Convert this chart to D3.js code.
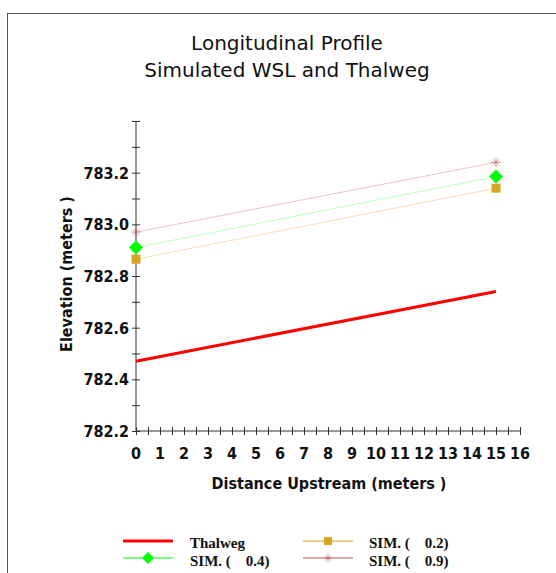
<!DOCTYPE html>
<html>
<head>
<meta charset="utf-8">
<script src="https://cdn.jsdelivr.net/npm/d3@7"></script>
<style>
  html, body { margin: 0; padding: 0; background: #fff; }
  svg { display: block; }
  text { white-space: pre; }
</style>
</head>
<body>
<svg id="chart" width="556" height="573"></svg>
<script>
// Station distances (m) and elevations (m) of each profile
const distance = [0, 15];
const thalweg  = [782.47, 782.74];
const sim02    = [782.865, 783.14];
const sim04    = [782.91, 783.185];
const sim09    = [782.97, 783.24];

const xTickLabels = d3.range(0, 17, 1);
const xMinorTicks = d3.range(0, 16.01, 0.5);
const yTickLabels = [782.2, 782.4, 782.6, 782.8, 783.0, 783.2];
const yMinorTicks = d3.range(0, 13).map(i => 782.2 + i * 0.1);

const series = [
  { name: "Thalweg",        values: thalweg, line: "#ff0000", legendLine: "#ff0000", width: 3, legendWidth: 3, marker: null },
  { name: "SIM. (    0.2)", values: sim02,   line: "#f6dfb8", legendLine: "#f0d08c", width: 1, legendWidth: 2, marker: "square",  fill: "#d9a326" },
  { name: "SIM. (    0.4)", values: sim04,   line: "#bdffbd", legendLine: "#7dff7d", width: 1, legendWidth: 2, marker: "diamond", fill: "#00ff00" },
  { name: "SIM. (    0.9)", values: sim09,   line: "#e8c4c4", legendLine: "#cf8f8f", width: 1, legendWidth: 1.5, marker: "star", fill: "#b55555" }
];

const axisFont = "'DejaVu Sans Condensed', 'DejaVu Sans', sans-serif";

const svg = d3.select("#chart");

// outer frame
svg.append("rect")
  .attr("x", 7.5).attr("y", 13.5)
  .attr("width", 600).attr("height", 600)
  .attr("fill", "none").attr("stroke", "#555").attr("stroke-width", 1);

const x = d3.scaleLinear().domain([0, 16]).range([136, 520]);
const y = d3.scaleLinear().domain([782.2, 783.4]).range([431, 121]);

// title
const title = svg.append("text")
  .attr("text-anchor", "middle")
  .attr("font-family", "DejaVu Sans")
  .attr("font-size", 20)
  .attr("fill", "#111");
title.append("tspan").attr("x", 287).attr("y", 50).text("Longitudinal Profile");
title.append("tspan").attr("x", 287).attr("y", 77).text("Simulated WSL and Thalweg");

// axes with ticks crossing the axis line
const gx = svg.append("g").attr("transform", `translate(0,${y(782.2)})`)
  .call(d3.axisBottom(x).tickValues(xMinorTicks).tickSize(4).tickFormat(""));
gx.selectAll(".tick line").attr("y1", -4).attr("y2", 4);
gx.select(".domain").attr("d", `M${x(0)},0H${x(16)}`);

const gy = svg.append("g").attr("transform", `translate(${x(0)},0)`)
  .call(d3.axisLeft(y).tickValues(yMinorTicks).tickSize(4).tickFormat(""));
gy.selectAll(".tick line").attr("x1", -4).attr("x2", 4);
gy.select(".domain").attr("d", `M0,${y(783.4)}V${y(782.2)}`);

svg.selectAll(".domain, .tick line").attr("stroke", "#333").attr("stroke-width", 1);

// tick labels
svg.append("g").selectAll("text").data(xTickLabels).join("text")
  .attr("x", d => x(d)).attr("y", 459)
  .attr("text-anchor", "middle")
  .attr("font-family", axisFont).attr("font-weight", "bold").attr("font-size", 16)
  .attr("fill", "#111")
  .text(d => d);

svg.append("g").selectAll("text").data(yTickLabels).join("text")
  .attr("x", 129).attr("y", d => y(d) + 6)
  .attr("text-anchor", "end")
  .attr("font-family", axisFont).attr("font-weight", "bold").attr("font-size", 16)
  .attr("fill", "#111")
  .text(d => d3.format(".1f")(d));

// axis titles
svg.append("text")
  .attr("x", 329).attr("y", 489)
  .attr("text-anchor", "middle")
  .attr("font-family", axisFont).attr("font-weight", "bold").attr("font-size", 16)
  .attr("fill", "#111")
  .text("Distance Upstream (meters )");

svg.append("text")
  .attr("transform", "translate(72,274) rotate(-90)")
  .attr("text-anchor", "middle")
  .attr("font-family", axisFont).attr("font-weight", "bold").attr("font-size", 16)
  .attr("fill", "#111")
  .text("Elevation (meters )");

// marker drawing
function drawMarker(g, type, cx, cy, fill, scale) {
  const s = scale || 1;
  if (type === "square") {
    g.append("rect").attr("x", cx - 4.5 * s).attr("y", cy - 4.5 * s)
      .attr("width", 9 * s).attr("height", 9 * s).attr("fill", fill);
  } else if (type === "diamond") {
    const r = 7 * s;
    g.append("path").attr("d", `M${cx},${cy - r}L${cx + r},${cy}L${cx},${cy + r}L${cx - r},${cy}Z`)
      .attr("fill", fill);
  } else if (type === "star") {
    const r = 5 * s, d = 3.2 * s;
    g.append("path")
      .attr("d", `M${cx - r},${cy}H${cx + r}M${cx},${cy - r}V${cy + r}M${cx - d},${cy - d}L${cx + d},${cy + d}M${cx - d},${cy + d}L${cx + d},${cy - d}`)
      .attr("stroke", fill).attr("stroke-width", 1).attr("stroke-opacity", 0.6).attr("fill", "none");
  }
}

// profile lines
const line = d3.line().x(d => x(d[0])).y(d => y(d[1]));
const plot = svg.append("g");
series.slice().reverse().forEach(s => {
  const pts = distance.map((d, i) => [d, s.values[i]]);
  plot.append("path").datum(pts)
    .attr("d", line)
    .attr("fill", "none")
    .attr("stroke", s.line)
    .attr("stroke-width", s.width);
});
series.forEach(s => {
  if (!s.marker) return;
  distance.forEach((d, i) => drawMarker(plot, s.marker, x(d), y(s.values[i]), s.fill));
});

// legend
const legendItems = [
  { s: series[0], lx: 123, ly: 541, tx: 190, ty: 548 },
  { s: series[1], lx: 303, ly: 541, tx: 369, ty: 548 },
  { s: series[2], lx: 123, ly: 558, tx: 190, ty: 566 },
  { s: series[3], lx: 303, ly: 558, tx: 369, ty: 566 }
];
const legend = svg.append("g");
legendItems.forEach(it => {
  legend.append("line")
    .attr("x1", it.lx).attr("x2", it.lx + 50)
    .attr("y1", it.ly).attr("y2", it.ly)
    .attr("stroke", it.s.legendLine).attr("stroke-width", it.s.legendWidth);
  if (it.s.marker) drawMarker(legend, it.s.marker, it.lx + 25, it.ly, it.s.fill, it.s.marker === "diamond" ? 0.85 : 0.9);
  legend.append("text")
    .attr("x", it.tx).attr("y", it.ty)
    .attr("font-family", "Liberation Serif").attr("font-weight", "bold").attr("font-size", 15)
    .attr("fill", "#111")
    .attr("xml:space", "preserve")
    .text(it.s.name);
});
</script>
</body>
</html>
